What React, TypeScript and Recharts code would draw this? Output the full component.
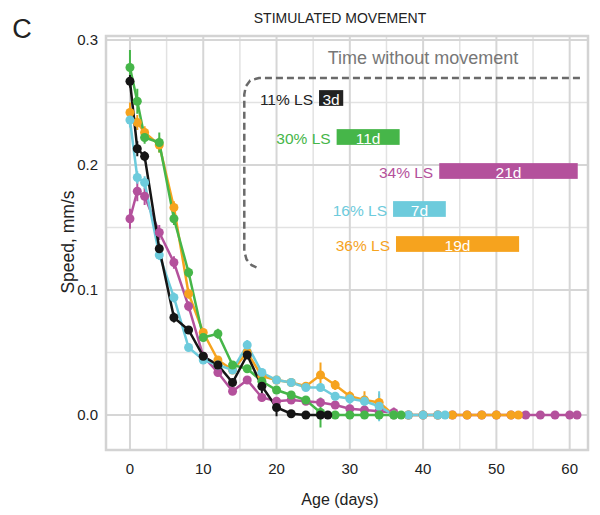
import {
  LineChart,
  Line,
  XAxis,
  YAxis,
  CartesianGrid,
  ErrorBar,
  ReferenceArea,
} from "recharts";

const FONT = "'Liberation Sans', Arial, sans-serif";

// mean speed (mm/s) by age (days), one set per group
const agesBlack = [0, 1, 2, 4, 6, 8, 10, 12, 14, 16, 18, 20, 22, 24, 26, 27];
const speedBlack = [0.267, 0.213, 0.207, 0.133, 0.078, 0.068, 0.047, 0.04, 0.026, 0.048, 0.023, 0.006, 0.001, 0, 0, 0];
const errBlack = [0.005, 0.006, 0.004, 0.004, 0.004, 0.003, 0, 0, 0, 0, 0.008, 0.007, 0.003, 0.002, 0.002, 0.002];

const agesGreen = [0, 1, 2, 4, 6, 8, 10, 12, 14, 16, 18, 20, 22, 24, 26, 28, 30, 32, 34, 36, 37];
const speedGreen = [0.278, 0.251, 0.222, 0.218, 0.157, 0.114, 0.062, 0.065, 0.04, 0.037, 0.027, 0.02, 0.016, 0.012, 0.002, 0, 0, 0, 0, 0, 0];
const errGreen = [0.014, 0.01, 0.005, 0.008, 0.005, 0.004, 0.003, 0.004, 0.003, 0.003, 0.003, 0.003, 0.003, 0.003, 0.012, 0.001, 0.001, 0.001, 0.001, 0.001, 0.001];

const agesMagenta = [0, 1, 2, 4, 6, 8, 10, 12, 14, 16, 18, 20, 22, 24, 26, 28, 30, 32, 34, 36, 38, 40, 42, 44, 46, 48, 50, 52, 54, 56, 58, 60, 61];
const speedMagenta = [0.157, 0.179, 0.175, 0.146, 0.122, 0.087, 0.047, 0.034, 0.019, 0.028, 0.014, 0.011, 0.012, 0.011, 0.01, 0.008, 0.005, 0.004, 0.003, 0.002, 0, 0, 0, 0, 0, 0, 0, 0, 0, 0, 0, 0, 0];
const errMagenta = [0.008, 0.008, 0.007, 0.006, 0.005, 0.004, 0.003, 0.003, 0.003, 0.003, 0.003, 0.002, 0.002, 0.002, 0.002, 0.002, 0.002, 0.002, 0.002, 0.004, 0.001, 0.001, 0.001, 0.001, 0.001, 0.001, 0.001, 0.001, 0.001, 0.001, 0.001, 0.001, 0.001];

const agesCyan = [0, 1, 2, 4, 6, 8, 10, 12, 14, 16, 18, 20, 22, 24, 26, 28, 30, 32, 34, 36, 38, 40, 42, 43];
const speedCyan = [0.236, 0.19, 0.186, 0.128, 0.094, 0.054, 0.044, 0.04, 0.036, 0.056, 0.034, 0.028, 0.026, 0.022, 0.022, 0.015, 0.013, 0.011, 0.007, 0, 0, 0, 0, 0];
const errCyan = [0.006, 0.005, 0.005, 0.004, 0.004, 0.003, 0.003, 0.003, 0.003, 0.004, 0.003, 0.003, 0.003, 0.003, 0.003, 0.003, 0.004, 0.005, 0.012, 0.001, 0.001, 0.001, 0.001, 0.001];

const agesOrange = [0, 1, 2, 4, 6, 8, 10, 12, 14, 16, 18, 20, 22, 24, 26, 28, 30, 32, 34, 36, 38, 40, 42, 44, 46, 48, 50, 52, 53];
const speedOrange = [0.242, 0.234, 0.226, 0.216, 0.166, 0.097, 0.066, 0.044, 0.036, 0.05, 0.031, 0.028, 0.026, 0.023, 0.032, 0.024, 0.015, 0.012, 0.01, 0, 0, 0, 0, 0, 0, 0, 0, 0, 0];
const errOrange = [0.008, 0.006, 0.005, 0.006, 0.005, 0.004, 0.003, 0.003, 0.003, 0.003, 0.003, 0.003, 0.003, 0.003, 0.01, 0.004, 0.004, 0.007, 0.007, 0.001, 0.001, 0.001, 0.001, 0.001, 0.001, 0.001, 0.001, 0.001, 0.001];

// time-without-movement tags
const tagLabels = ["11% LS", "30% LS", "34% LS", "16% LS", "36% LS"];
const tagText = ["3d", "11d", "21d", "7d", "19d"];
const tagStart = [25.8, 28.2, 42.2, 35.9, 36.3];
const tagEnd = [29.1, 36.8, 61.1, 43.1, 53.1];
const tagLevel = [0.2536, 0.2224, 0.1952, 0.1648, 0.1368];
const tagColors = ["#222222", "#46b649", "#b4519c", "#6dcbdc", "#f6a31e"];

// dashed bracket around the tags
const bracketDays = [61.4, 17.6, 16.4, 15.8, 15.6, 15.6, 15.9, 16.6, 17.6];
const bracketSpeed = [0.2696, 0.2696, 0.2676, 0.2628, 0.2565, 0.131, 0.1245, 0.1198, 0.1172];

const xTicks = [0, 10, 20, 30, 40, 50, 60];
const xMinor = [5, 15, 25, 35, 45, 55];
const yTicks = [0, 0.1, 0.2, 0.3];
const yMinor = [0.05, 0.15, 0.25];

const toRows = (ages: number[], speed: number[], err: number[]) =>
  ages.map((day, i) => ({ day, speed: speed[i], err: err[i] }));

// drawing order: first is at the bottom
const series = [
  { key: "magenta", color: "#b4519c", data: toRows(agesMagenta, speedMagenta, errMagenta) },
  { key: "orange", color: "#f6a31e", data: toRows(agesOrange, speedOrange, errOrange) },
  { key: "cyan", color: "#6dcbdc", data: toRows(agesCyan, speedCyan, errCyan) },
  { key: "green", color: "#46b649", data: toRows(agesGreen, speedGreen, errGreen) },
  { key: "black", color: "#151515", data: toRows(agesBlack, speedBlack, errBlack) },
];

const bracket = bracketDays.map((day, i) => ({ day, edge: bracketSpeed[i] }));

const TagBar = (props: any) => {
  const { x, y, width, height, color, label, text } = props;
  return (
    <g>
      <rect x={x} y={y} width={width} height={height} fill={color} />
      <text
        x={x + width / 2}
        y={y + height / 2 + 1}
        fill="#fff"
        fontSize={15.5}
        fontFamily={FONT}
        textAnchor="middle"
        dominantBaseline="central"
      >
        {text}
      </text>
      <text
        x={x - 6}
        y={y + height / 2 + 1}
        fill={color}
        fontSize={15.5}
        fontFamily={FONT}
        textAnchor="end"
        dominantBaseline="central"
      >
        {label}
      </text>
    </g>
  );
};

export default function App() {
  return (
    <div style={{ position: "relative", width: 592, height: 500, fontFamily: FONT }}>
      <LineChart
        width={592}
        height={500}
        margin={{ top: 28, right: 12, bottom: 28, left: 48 }}
      >
        <CartesianGrid
          horizontalValues={yMinor}
          verticalValues={xMinor}
          stroke="#e2e2e2"
          strokeWidth={1.5}
        />
        <CartesianGrid
          horizontalValues={yTicks}
          verticalValues={xTicks}
          stroke="#d6d6d6"
          strokeWidth={2}
        />
        <XAxis
          type="number"
          dataKey="day"
          domain={[-3.27, 62.5]}
          ticks={xTicks}
          allowDataOverflow
          axisLine={false}
          tickLine={false}
          tickMargin={7}
          height={30}
          tick={{ fill: "#222", fontSize: 15, fontFamily: FONT }}
        />
        <YAxis
          type="number"
          domain={[-0.028, 0.3032]}
          ticks={yTicks}
          allowDataOverflow
          axisLine={false}
          tickLine={false}
          width={50}
          tickFormatter={(v: number) => v.toFixed(1)}
          tick={{ fill: "#222", fontSize: 15, fontFamily: FONT }}
        />
        <ReferenceArea
          x1={-3.27}
          x2={62.5}
          y1={-0.028}
          y2={0.3032}
          fill="none"
          stroke="#d3d3d3"
          strokeWidth={2.5}
          ifOverflow="visible"
        />
        {tagLabels.map((label, i) => (
          <ReferenceArea
            key={label}
            x1={tagStart[i]}
            x2={tagEnd[i]}
            y1={tagLevel[i] - 0.0063}
            y2={tagLevel[i] + 0.0063}
            shape={(p: any) => (
              <TagBar {...p} color={tagColors[i]} label={label} text={tagText[i]} />
            )}
          />
        ))}
        <Line
          data={bracket}
          dataKey="edge"
          type="linear"
          stroke="#6a6a6a"
          strokeWidth={2.5}
          strokeDasharray="7 4"
          dot={false}
          activeDot={false}
          isAnimationActive={false}
        />
        {series.map((s) => (
          <Line
            key={s.key}
            data={s.data}
            dataKey="speed"
            type="linear"
            stroke={s.color}
            strokeWidth={2.5}
            dot={{ r: 4.5, fill: s.color, stroke: "none" }}
            activeDot={false}
            isAnimationActive={false}
          >
            <ErrorBar dataKey="err" width={0} stroke={s.color} strokeWidth={2} direction="y" />
          </Line>
        ))}
      </LineChart>
      <svg
        width={592}
        height={500}
        style={{ position: "absolute", left: 0, top: 0, pointerEvents: "none" }}
      >
        <text x={14} y={21} fontSize={27} fill="#222" textAnchor="middle" dominantBaseline="central">
          C
        </text>
        <text x={332} y={10} fontSize={14} fill="#222" textAnchor="middle" dominantBaseline="central">
          STIMULATED MOVEMENT
        </text>
        <text x={415} y={50} fontSize={18} fill="#777" textAnchor="middle" dominantBaseline="central">
          Time without movement
        </text>
        <text x={332} y={491} fontSize={16} fill="#222" textAnchor="middle" dominantBaseline="central">
          Age (days)
        </text>
        <text
          x={60}
          y={234}
          fontSize={17.5}
          fill="#222"
          textAnchor="middle"
          dominantBaseline="central"
          transform="rotate(-90 60 234)"
        >
          Speed, mm/s
        </text>
      </svg>
    </div>
  );
}
